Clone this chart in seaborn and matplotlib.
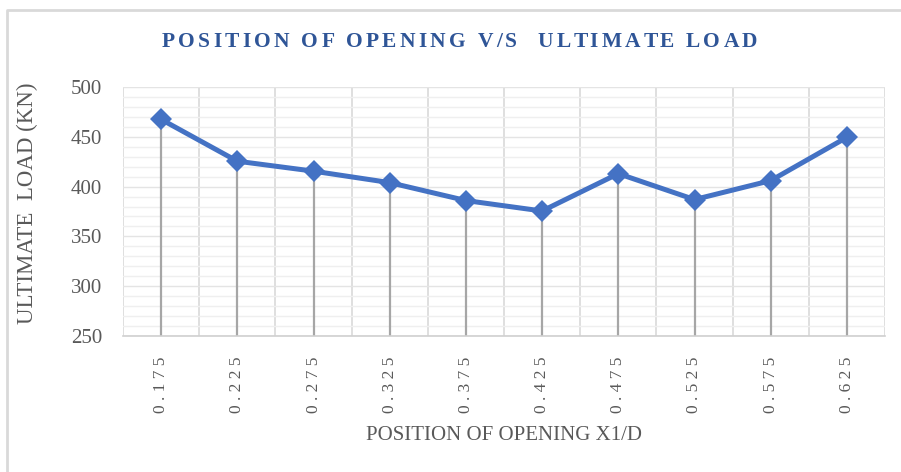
import pandas as pd
import numpy as np
import matplotlib.pyplot as plt
from matplotlib.lines import Line2D
from matplotlib.font_manager import FontProperties
from matplotlib.ticker import MultipleLocator, FixedLocator
import seaborn as sns

# Data
positions = ["0.175", "0.225", "0.275", "0.325", "0.375",
             "0.425", "0.475", "0.525", "0.575", "0.625"]
ultimate_load = [467.5, 425.5, 415.5, 404, 386, 375.5, 413, 387, 406, 449.5]

title = "POSITION OF OPENING V/S  ULTIMATE LOAD"
x_label = "POSITION OF OPENING X1/D"
y_label = "ULTIMATE  LOAD (KN)"

sns.set_theme(style="white")
plt.rcParams["font.family"] = ["Liberation Serif", "DejaVu Serif"]

df = pd.DataFrame({"position": positions, "load": ultimate_load})

fig = plt.figure(figsize=(9.01, 4.72), dpi=100)
ax = fig.add_axes([123 / 901, 1 - 336 / 472, 762 / 901, 249 / 472])

# drop lines from each point to the axis
ax.vlines(df["position"], 250, df["load"], color="#A6A6A6", lw=1.6, zorder=2)

sns.lineplot(data=df, x="position", y="load", ax=ax, color="#4472C4",
             lw=3.6, marker="D", markersize=11, markeredgewidth=0,
             zorder=3)

n = len(positions)
ax.set_xlim(-0.5, n - 0.5)
ax.set_ylim(250, 500)

# gridlines: category boundaries vertically, 10-unit steps horizontally
ax.xaxis.set_minor_locator(FixedLocator(np.arange(-0.5, n, 1.0)))
ax.yaxis.set_major_locator(MultipleLocator(50))
ax.yaxis.set_minor_locator(MultipleLocator(10))
ax.grid(False)
ax.grid(which="minor", axis="x", color="#D9D9D9", lw=1.2)
ax.grid(which="major", axis="y", color="#E4E4E4", lw=1.0)
ax.grid(which="minor", axis="y", color="#EFEFEF", lw=1.0)
ax.set_axisbelow(True)

for side in ["top", "right", "left"]:
    ax.spines[side].set_visible(False)
ax.spines["bottom"].set_color("#D0D0D0")
ax.spines["bottom"].set_linewidth(1.2)

ax.set_xticks(range(n))
ax.set_xticklabels([" ".join(p) for p in positions], rotation=90,
                   va="top", ha="center", fontsize=12.5, color="#595959")
ax.tick_params(axis="x", which="both", length=0, pad=15)
ax.tick_params(axis="y", which="both", length=0, pad=15,
               labelsize=15, labelcolor="#595959")

ax.set_xlabel(x_label, fontsize=15, color="#595959")
ax.xaxis.set_label_coords(0.5, -0.398)
ax.xaxis.label.set_va("center")
ax.set_ylabel(y_label, fontsize=16.5, color="#595959")
ax.yaxis.set_label_coords(-0.126, 0.534)
ax.yaxis.label.set_va("center")

# title with letter spacing, placed one character at a time
renderer = fig.canvas.get_renderer()
prop = FontProperties(family=["Liberation Serif"], weight="bold", size=15.5)


def advance(s):
    w = renderer.get_text_width_height_descent("I" + s + "I", prop, ismath=False)[0]
    return w - renderer.get_text_width_height_descent("II", prop, ismath=False)[0]


spacing = 3.3  # px between letters
offsets = [advance(title[:i]) + i * spacing for i in range(len(title))]
total = advance(title) + (len(title) - 1) * spacing
x0 = 459.5 - total / 2
for ch, off in zip(title, offsets):
    if ch == " ":
        continue
    fig.text((x0 + off) / 901, 1 - 42 / 472, ch, ha="left", va="center",
             fontproperties=prop, color="#2F5597")

# chart border (only left and top edges are inside the crop)
fig.add_artist(Line2D([7 / 901, 7 / 901, 1.0], [0.0, 1 - 10 / 472, 1 - 10 / 472],
                      transform=fig.transFigure, color="#D9D9D9", lw=2))

fig.savefig("out.png", dpi=100)
